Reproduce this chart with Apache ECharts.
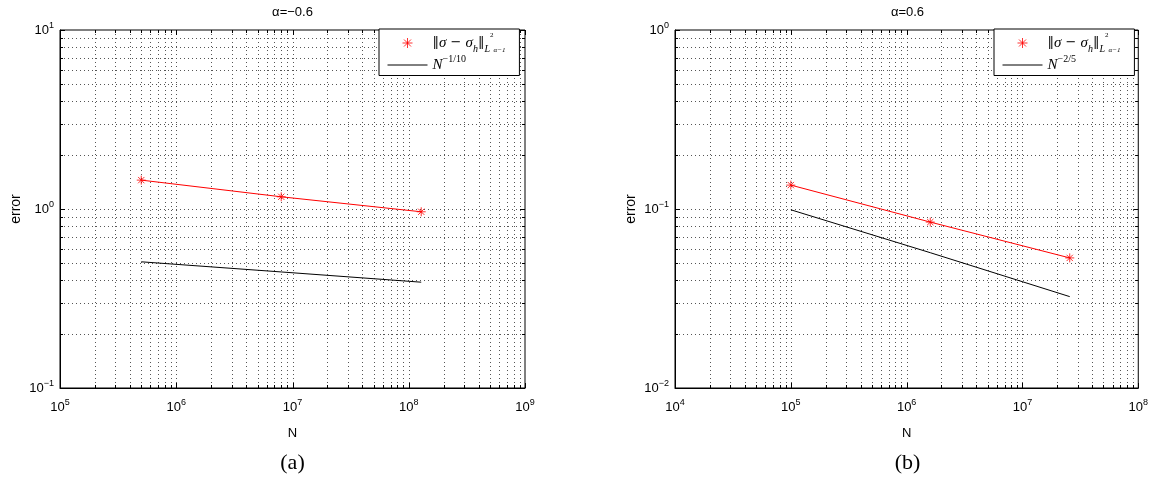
<!DOCTYPE html>
<html>
<head>
<meta charset="utf-8">
<script src="https://cdn.jsdelivr.net/npm/echarts@6/dist/echarts.min.js"></script>
<style>
  html, body { margin: 0; padding: 0; background: #fff; }
  #chart { width: 1151px; height: 486px; }
</style>
</head>
<body>
<div id="chart"></div>
<script>
// (a) alpha = -0.6
const nA = [5e5, 8e6, 1.28e8];
const errA = [1.45, 1.17, 0.965];
const rateA = [0.507, 0.445, 0.39];
// (b) alpha = 0.6
const nB = [1e5, 1.6e6, 2.56e7];
const errB = [0.136, 0.0845, 0.0533];
const rateB = [0.099, 0.057, 0.0324];

const titles = ['α=−0.6', 'α=0.6'];
const captions = ['(a)', '(b)'];
const rateLabels = ['−1/10', '−2/5'];
// axis ranges as decade exponents
const xExpA = [5, 9], yExpA = [-1, 1];
const xExpB = [4, 8], yExpB = [-2, 0];

const chart = echarts.init(document.getElementById('chart'));

const sansFont = 'Liberation Sans, Arial, sans-serif';
const serifFont = 'Liberation Serif, DejaVu Serif, serif';
const star = 'path://M0,-1L0,1M-1,0L1,0M-0.7,-0.7L0.7,0.7M-0.7,0.7L0.7,-0.7';

function pow10Label(v) {
  const e = Math.round(Math.log10(v));
  return '{b|10}{e|' + String(e).replace('-', '−') + '}';
}
const powRich = {
  b: { fontFamily: sansFont, fontSize: 13, color: '#000', lineHeight: 18 },
  e: { fontFamily: sansFont, fontSize: 9, color: '#000', lineHeight: 10, verticalAlign: 'top' }
};

// grid lines (major + minor) at 1..9 x 10^k
function gridItems(xe, ye) {
  const items = [];
  for (let k = xe[0]; k < xe[1]; k++) {
    for (let m = 1; m <= 9; m++) {
      if (k === xe[0] && m === 1) continue;
      items.push([m * Math.pow(10, k), Math.pow(10, ye[0]), 0, m === 1 ? 1 : 0]);
    }
  }
  items.push([Math.pow(10, xe[1]), Math.pow(10, ye[0]), 0, 1]);
  for (let k = ye[0]; k < ye[1]; k++) {
    for (let m = 1; m <= 9; m++) {
      if (k === ye[0] && m === 1) continue;
      items.push([Math.pow(10, xe[0]), m * Math.pow(10, k), 1, m === 1 ? 1 : 0]);
    }
  }
  items.push([Math.pow(10, xe[0]), Math.pow(10, ye[1]), 1, 1]);
  return items;
}

function renderGrid(params, api) {
  const cs = params.coordSys;
  const p = api.coord([api.value(0), api.value(1)]);
  const kind = api.value(2);
  const len = api.value(3) ? 5 : 3;
  const dot = { stroke: '#555', lineWidth: 1, lineDash: [1, 3] };
  const tk = { stroke: '#000', lineWidth: 1 };
  const children = [];
  if (kind === 0) {
    const x = Math.round(p[0]) + 0.5;
    const y0 = cs.y, y1 = cs.y + cs.height;
    if (Math.abs(p[0] - (cs.x + cs.width)) > 1) {
      children.push({ type: 'line', shape: { x1: x, y1: y0, x2: x, y2: y1 }, style: dot });
    }
    children.push({ type: 'line', shape: { x1: x, y1: y1, x2: x, y2: y1 - len }, style: tk });
    children.push({ type: 'line', shape: { x1: x, y1: y0, x2: x, y2: y0 + len }, style: tk });
  } else {
    const y = Math.round(p[1]) + 0.5;
    const x0 = cs.x, x1 = cs.x + cs.width;
    if (Math.abs(p[1] - cs.y) > 1) {
      children.push({ type: 'line', shape: { x1: x0, y1: y, x2: x1, y2: y }, style: dot });
    }
    children.push({ type: 'line', shape: { x1: x0, y1: y, x2: x0 + len, y2: y }, style: tk });
    children.push({ type: 'line', shape: { x1: x1, y1: y, x2: x1 - len, y2: y }, style: tk });
  }
  return { type: 'group', children: children };
}

const legendRich = {
  n: { fontFamily: serifFont, fontStyle: 'italic', fontSize: 15, color: '#000', lineHeight: 22 },
  r: { fontFamily: 'DejaVu Serif, serif', fontSize: 13, color: '#000', lineHeight: 22 },
  s: { fontFamily: serifFont, fontStyle: 'italic', fontSize: 10, color: '#000', lineHeight: 14, verticalAlign: 'bottom' },
  t: { fontFamily: serifFont, fontSize: 7, color: '#000', lineHeight: 20, verticalAlign: 'top' },
  u: { fontFamily: serifFont, fontStyle: 'italic', fontSize: 7, color: '#000', lineHeight: 10, verticalAlign: 'bottom' },
  p: { fontFamily: serifFont, fontSize: 10, color: '#000', lineHeight: 12, verticalAlign: 'top' }
};
const errText = '{r|‖}{n|σ}{r| − }{n|σ}{s|h}{r|‖}{s|L}{t|2}{u|α−1}';

const plots = [
  { n: nA, err: errA, rate: rateA, xe: xExpA, ye: yExpA, left: 60 },
  { n: nB, err: errB, rate: rateB, xe: xExpB, ye: yExpB, left: 675 }
];

const option = {
  animation: false,
  backgroundColor: '#fff',
  grid: [],
  xAxis: [],
  yAxis: [],
  legend: [],
  series: [],
  graphic: []
};

plots.forEach((pl, i) => {
  option.grid.push({
    left: pl.left, top: 30, width: 465, height: 358,
    show: true, borderColor: '#000', borderWidth: 1, backgroundColor: '#fff'
  });
  option.xAxis.push({
    type: 'log', logBase: 10, gridIndex: i,
    min: Math.pow(10, pl.xe[0]), max: Math.pow(10, pl.xe[1]),
    name: 'N', nameLocation: 'middle', nameGap: 39,
    nameTextStyle: { fontFamily: sansFont, fontSize: 13, color: '#000' },
    axisLine: { show: true, lineStyle: { color: '#000', width: 1 } },
    axisTick: { show: false },
    splitLine: { show: false },
    axisLabel: { formatter: pow10Label, rich: powRich, margin: 10, showMinLabel: true, showMaxLabel: true }
  });
  option.yAxis.push({
    type: 'log', logBase: 10, gridIndex: i,
    min: Math.pow(10, pl.ye[0]), max: Math.pow(10, pl.ye[1]),
    name: 'error', nameLocation: 'middle', nameGap: 37,
    nameTextStyle: { fontFamily: sansFont, fontSize: 14, color: '#000' },
    axisLine: { show: true, lineStyle: { color: '#000', width: 1 } },
    axisTick: { show: false },
    splitLine: { show: false },
    axisLabel: { formatter: pow10Label, rich: powRich, margin: 6, showMinLabel: true, showMaxLabel: true }
  });

  const errName = 'err' + i, rateName = 'rate' + i;
  option.series.push({
    type: 'custom', xAxisIndex: i, yAxisIndex: i, silent: true, z: 1,
    renderItem: renderGrid, data: gridItems(pl.xe, pl.ye)
  });
  option.series.push({
    name: errName + 'line', type: 'line', xAxisIndex: i, yAxisIndex: i, z: 3,
    data: pl.n.map((v, j) => [v, pl.err[j]]), symbol: 'none',
    lineStyle: { color: '#ff0000', width: 1 }, itemStyle: { color: '#ff0000' }
  });
  option.series.push({
    name: errName, type: 'scatter', xAxisIndex: i, yAxisIndex: i, z: 4,
    data: pl.n.map((v, j) => [v, pl.err[j]]),
    symbol: star, symbolSize: 9, symbolKeepAspect: true,
    itemStyle: { color: 'transparent', borderColor: '#ff0000', borderWidth: 1 }
  });
  option.series.push({
    name: rateName, type: 'line', xAxisIndex: i, yAxisIndex: i, z: 3,
    data: pl.n.map((v, j) => [v, pl.rate[j]]), symbol: 'none', showSymbol: false,
    lineStyle: { color: '#000', width: 1 }, itemStyle: { color: '#000' }
  });

  option.legend.push({
    data: [
      { name: errName, icon: star, itemStyle: { color: 'transparent', borderColor: '#ff0000', borderWidth: 1 } },
      { name: rateName, itemStyle: { color: 'transparent', borderWidth: 0 } }
    ],
    left: pl.left + 319, top: 29, orient: 'vertical',
    padding: [3, 14, 3, 8], itemGap: 0,
    itemWidth: 40, itemHeight: 10,
    backgroundColor: '#fff', borderColor: '#000', borderWidth: 1,
    lineStyle: { width: 1 },
    selectedMode: false,
    formatter: name => name === errName ? errText : '{n|N}{p|' + rateLabels[i] + '}',
    textStyle: { rich: legendRich }
  });

  const cx = pl.left + 232.5;
  option.graphic.push({
    type: 'text', x: cx, y: 12,
    style: { text: titles[i], font: '13px ' + sansFont, fill: '#000', align: 'center', verticalAlign: 'middle' }
  });
  option.graphic.push({
    type: 'text', x: cx, y: 463,
    style: { text: captions[i], font: '22px ' + serifFont, fill: '#000', align: 'center', verticalAlign: 'middle' }
  });
});

chart.setOption(option);
</script>
</body>
</html>
